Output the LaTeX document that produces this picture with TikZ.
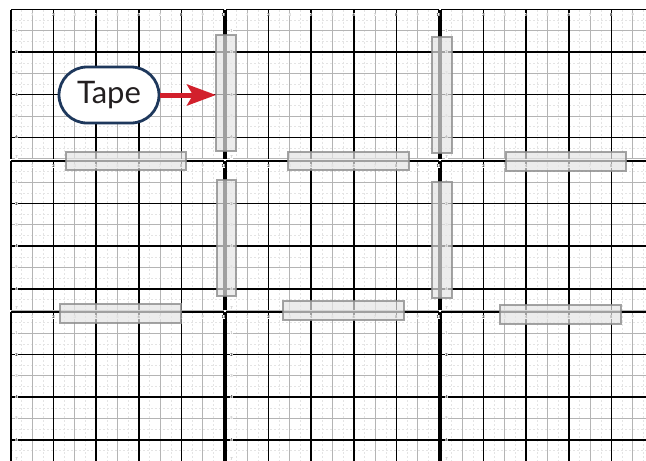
\documentclass[tikz,border=0pt]{standalone}
\usepackage{fontspec}
\setmainfont{Lato}
\usetikzlibrary{arrows.meta}
\definecolor{navy}{RGB}{30,56,92}
\definecolor{tapered}{RGB}{210,32,44}
\definecolor{gridgray}{RGB}{180,180,180}
\definecolor{dashgray}{RGB}{228,228,228}
\definecolor{inkgray}{RGB}{35,31,32}
\tikzset{
  dashline/.style={draw=dashgray,line width=0.45pt,dash pattern=on 2pt off 2pt},
  minorline/.style={draw=gridgray,line width=0.95pt},
  majorline/.style={draw=black,line width=1.45pt},
  oddlab/.style={font=\fontsize{4}{4}\selectfont,text=black!40,fill=white,inner sep=0.3pt},
  evenlab/.style={font=\fontsize{4}{4}\selectfont\bfseries,text=black,fill=white,inner sep=0.3pt},
  tapestrip/.style={fill=black!10,fill opacity=0.7,draw=black!45,draw opacity=0.8,line width=1.2pt},
  labelbox/.style={draw=navy,line width=2.8pt,fill=white,rounded corners=28pt,
    minimum width=100pt,minimum height=56pt,inner sep=0pt,
    font=\fontsize{31}{31}\selectfont,text=inkgray},
  redarrow/.style={draw=tapered,line width=5pt,-{Stealth[length=29pt,width=21pt,inset=6pt]}}
}
% #1,#2: top-left corner in px; #3: even labels along the top edge
\newcommand\gsheet[3]{%
 \begin{scope}[shift={(#1,#2)}]
  \fill[white] (0,0) rectangle (213,149);
  \begin{scope}
   \clip (-0.8,-0.8) rectangle (213.8,149.8);
   \begin{scope}[x=21.3pt,y=-21.3pt]
    \foreach \i in {0.5,1.5,...,9.5} \draw[dashline] (\i,0) -- (\i,7);
    \foreach \j in {0.5,1.5,...,6.5} \draw[dashline] (0,\j) -- (10,\j);
    \foreach \i in {1,3,...,9} \draw[minorline] (\i,0) -- (\i,7);
    \foreach \j in {1,3,5,7} \draw[minorline] (0,\j) -- (10,\j);
    \foreach \i in {0,2,...,10} \draw[majorline] (\i,0) -- (\i,7);
    \foreach \j in {0,2,4,6} \draw[majorline] (0,\j) -- (10,\j);
   \end{scope}
  \end{scope}
  \begin{scope}[x=21.3pt,y=-21.3pt]
    \foreach \i in {1,3,...,9} \node[oddlab,yshift=-5.2pt] at (\i,0) {\i};
    \foreach \i in {#3} \node[evenlab,yshift=-5.2pt] at (\i,0) {\i};
    \foreach \j in {1,3,5} \node[oddlab,xshift=5.5pt] at (0,\j) {\j};
    \node[oddlab,xshift=5.5pt,yshift=1.6pt] at (0,7) {7};
    \foreach \j in {2,4,6} \node[evenlab,xshift=5.5pt] at (0,\j) {\j};
  \end{scope}
 \end{scope}}
\begin{document}
\begin{tikzpicture}[x=1pt,y=-1pt]
\useasboundingbox (0,0) rectangle (646,461);
\fill[white] (0,0) rectangle (646,461);
% sheets of graph paper
\foreach \sy in {9.5,161,312}{
  \gsheet{11}{\sy}{2,4,6,8,10}
  \gsheet{226}{\sy}{2,4,6,8,10}
  \gsheet{441}{\sy}{2,4,6,8}
}
% tape strips
\path[tapestrip] (216,35) rectangle (236,151);
\path[tapestrip] (432,37) rectangle (452,153);
\path[tapestrip] (66,152) rectangle (186,170);
\path[tapestrip] (288,152) rectangle (409,170);
\path[tapestrip] (506,152) rectangle (626,171);
\path[tapestrip] (217,180) rectangle (236,296);
\path[tapestrip] (432,182) rectangle (452,298);
\path[tapestrip] (60,304) rectangle (181,323);
\path[tapestrip] (283,301) rectangle (404,320);
\path[tapestrip] (500,305) rectangle (621,324);
% label and arrow
\node[labelbox] (tape) at (109,95) {Tape};
\coordinate (tip) at (216,95);
\draw[redarrow] (tape.east) -- (tip);
\end{tikzpicture}
\end{document}
